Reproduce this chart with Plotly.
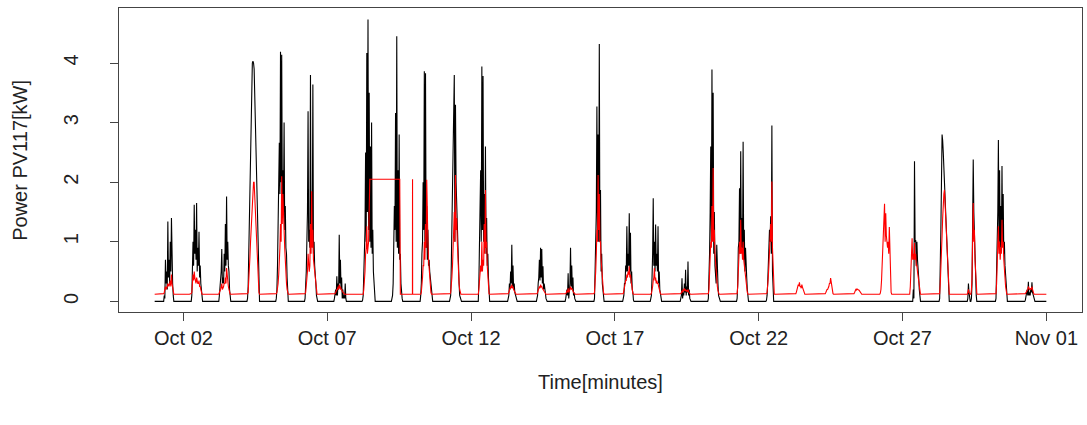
import datetime as dt
import plotly.graph_objects as go

# ---------------- data ----------------
START = dt.datetime(2017, 10, 1)
N_DAYS = 31
HOURS = [5, 6, 7, 8, 9, 10, 11, 12, 13, 14, 15, 16]          # full-hour readings
HALF_HOURS = [5.5, 6.5, 7.5, 8.5, 9.5, 10.5, 11.5, 12.5, 13.5, 14.5, 15.5]

BLACK_NIGHT = 0.0
RED_NIGHT = 0.12

# measured power, kW, per day (rows) at HOURS (columns)
BLACK_KW = [
    [0, 0, 0, 0.1, 0.7, 0.5, 1.34, 0.7, 1.0, 1.4, 0.3, 0],          # Oct 01
    [0, 0, 0.1, 1.0, 1.62, 1.2, 1.65, 0.9, 1.17, 0.6, 0.15, 0],     # Oct 02
    [0, 0.1, 0.3, 0.88, 0.4, 0.8, 1.3, 1.76, 1.0, 0.5, 0.05, 0],    # Oct 03
    [0, 0.25, 1.45, 2.65, 3.85, 4.03, 3.9, 2.9, 1.95, 0.95, 0.05, 0],
    [0, 0.2, 1.2, 2.66, 4.19, 4.14, 2.2, 3.0, 1.6, 0.8, 0.1, 0],
    [0, 0.2, 1.0, 3.19, 1.2, 3.8, 1.5, 3.64, 1.0, 0.5, 0.1, 0],
    [0, 0.05, 0.2, 0.42, 0.3, 1.12, 0.7, 0.4, 0.2, 0.1, 0.3, 0],
    [0, 0.1, 1.0, 2.5, 4.17, 4.73, 3.5, 2.6, 3.0, 1.2, 0.3, 0],      # Oct 08
    [0, 0.05, 0.3, 1.6, 3.16, 4.45, 2.2, 2.8, 0.8, 0.1, 0, 0],
    [0, 0.1, 0.8, 2.0, 3.86, 3.83, 1.6, 1.2, 0.7, 0.4, 0.1, 0],
    [0, 0, 0.1, 1.2, 2.6, 3.8, 3.3, 1.6, 0.8, 0.3, 0.05, 0],
    [0, 0, 0.8, 2.2, 3.94, 3.78, 1.8, 2.6, 1.4, 0.8, 0.1, 0],        # Oct 12
    [0, 0, 0.05, 0.3, 0.5, 0.95, 0.6, 0.3, 0.1, 0, 0, 0],
    [0, 0, 0.05, 0.3, 0.7, 0.9, 0.88, 0.59, 0.3, 0.15, 0.02, 0],
    [0, 0, 0.05, 0.2, 0.47, 0.15, 0.9, 0.6, 0.4, 0.15, 0.02, 0],
    [0, 0, 0.05, 1.0, 3.27, 2.8, 4.32, 1.87, 0.8, 0.2, 0, 0],        # Oct 16
    [0, 0, 0.05, 0.3, 0.6, 1.26, 0.8, 1.48, 1.15, 0.5, 0.15, 0],
    [0, 0.05, 0.4, 1.73, 1.0, 1.29, 0.8, 1.26, 0.5, 0.1, 0, 0],
    [0, 0, 0.05, 0.39, 0.15, 0.3, 0.53, 0.25, 0.67, 0.2, 0, 0],
    [0, 0.05, 0.8, 2.6, 3.89, 3.5, 1.5, 0.4, 0.95, 0.3, 0.05, 0],    # Oct 20
    [0, 0.05, 0.9, 1.9, 2.52, 1.4, 2.68, 1.2, 0.9, 0.4, 0.05, 0],
    [0, 0, 0.1, 0.6, 1.2, 1.43, 2.95, 0.1, 0, 0, 0, 0],
    [0, 0, 0, 0, 0, 0, 0, 0, 0, 0, 0, 0],
    [0, 0, 0, 0, 0, 0, 0, 0, 0, 0, 0, 0],
    [0, 0, 0, 0, 0, 0, 0, 0, 0, 0, 0, 0],
    [0, 0, 0, 0, 0, 0, 0, 0, 0, 0, 0, 0],
    [0, 0, 0, 0, 0.2, 2.35, 1.03, 1.0, 0.6, 0.2, 0, 0],              # Oct 27
    [0, 0, 0.05, 1.2, 2.8, 2.5, 2.0, 1.45, 0.9, 0.4, 0, 0],
    [0, 0, 0.3, 0.05, 0, 0.3, 2.38, 1.0, 0.3, 0, 0, 0],
    [0, 0.05, 1.0, 2.71, 2.2, 1.6, 2.27, 1.8, 1.0, 0.4, 0.05, 0],
    [0, 0, 0.1, 0.2, 0.33, 0.15, 0.2, 0.32, 0.1, 0, 0, 0],           # Oct 31
]

# measured power, kW, at HALF_HOURS (lows between the spikes)
BLACK_KW_HALF = [
    [0, 0, 0, 0.05, 0.3, 0.2, 0.4, 0.3, 0.5, 0.6, 0.1],
    [0, 0, 0.4, 0.6, 0.8, 0.7, 0.5, 0.6, 0.4, 0.3, 0.05],
    [0, 0.2, 0.5, 0.3, 0.3, 0.5, 0.6, 0.7, 0.6, 0.2, 0],
    [0.05, 0.8, 2.05, 3.25, 4.0, 4.0, 3.4, 2.4, 1.45, 0.5, 0],
    [0.05, 0.6, 1.5, 1.8, 2.0, 1.8, 1.5, 1.2, 0.9, 0.4, 0],
    [0.05, 0.5, 1.5, 1.0, 0.9, 1.0, 1.0, 0.8, 0.6, 0.3, 0],
    [0, 0.1, 0.1, 0.1, 0.2, 0.3, 0.2, 0.05, 0.05, 0.05, 0.05],
    [0.02, 0.5, 1.2, 1.0, 1.5, 1.2, 1.0, 0.9, 0.8, 0.5, 0.05],
    [0, 0.1, 0.8, 1.2, 1.0, 0.9, 0.8, 0.7, 0.3, 0.05, 0],
    [0, 0.3, 1.0, 1.2, 1.0, 0.9, 0.7, 0.6, 0.5, 0.2, 0],
    [0, 0.05, 0.6, 1.8, 3.2, 1.0, 2.0, 1.2, 0.5, 0.1, 0],
    [0, 0.3, 1.2, 1.0, 1.2, 1.0, 0.9, 0.8, 0.6, 0.4, 0],
    [0, 0, 0.1, 0.2, 0.3, 0.25, 0.2, 0.15, 0.05, 0, 0],
    [0, 0, 0.1, 0.4, 0.35, 0.4, 0.3, 0.2, 0.15, 0.05, 0],
    [0, 0, 0.1, 0.1, 0.05, 0.3, 0.25, 0.2, 0.1, 0.05, 0],
    [0, 0, 0.4, 1.5, 1.2, 1.0, 1.0, 0.5, 0.3, 0.05, 0],
    [0, 0, 0.1, 0.3, 0.5, 0.5, 0.6, 0.5, 0.3, 0.2, 0.02],
    [0, 0.1, 0.8, 0.6, 0.5, 0.6, 0.5, 0.3, 0.2, 0.02, 0],
    [0, 0, 0.1, 0.05, 0.1, 0.15, 0.1, 0.15, 0.1, 0.05, 0],
    [0, 0.3, 1.5, 1.0, 1.2, 0.8, 0.6, 0.3, 0.4, 0.1, 0],
    [0, 0.3, 1.0, 0.8, 0.9, 0.8, 0.7, 0.5, 0.4, 0.2, 0],
    [0, 0.02, 0.3, 0.8, 1.0, 0.8, 0.5, 0, 0, 0, 0],
    [0, 0, 0, 0, 0, 0, 0, 0, 0, 0, 0],
    [0, 0, 0, 0, 0, 0, 0, 0, 0, 0, 0],
    [0, 0, 0, 0, 0, 0, 0, 0, 0, 0, 0],
    [0, 0, 0, 0, 0, 0, 0, 0, 0, 0, 0],
    [0, 0, 0, 0, 0.05, 1.0, 0.6, 0.7, 0.4, 0.05, 0],
    [0, 0, 0.5, 2.0, 2.7, 2.25, 1.75, 1.2, 0.65, 0.15, 0],
    [0, 0.05, 0.15, 0, 0.05, 1.0, 1.5, 0.6, 0.1, 0, 0],
    [0, 0.4, 1.5, 1.0, 0.9, 0.9, 1.0, 0.8, 0.6, 0.2, 0],
    [0, 0.02, 0.15, 0.1, 0.1, 0.1, 0.15, 0.15, 0.05, 0, 0],
]

# second (red) series, kW, at HOURS
RED_KW = [
    [.12, .12, .12, .15, .25, .22, .3, .25, .35, .45, .2, .12],
    [.12, .12, .15, .45, .5, .35, .4, .3, .35, .25, .15, .12],
    [.12, .15, .2, .3, .22, .3, .4, .56, .35, .2, .12, .12],
    [.12, .15, .5, 1.0, 1.5, 2.0, 2.0, 1.5, 1.0, .5, .15, .12],
    [.12, .15, .3, .6, 1.3, 2.1, 1.8, 1.2, .6, .3, .13, .12],
    [.12, .15, .4, .8, .5, 1.3, 1.85, 1.2, .6, .3, .13, .12],
    [.12, .12, .15, .2, .25, .28, .25, .2, .15, .13, .12, .12],
    [.12, .12, .3, .8, 1.26, .9, 2.05, 2.05, 2.05, 2.05, 2.05, 2.05],
    [2.05, 2.05, 2.05, 2.05, 2.05, 2.05, 2.05, 2.05, .12, .12, .12, .12],
    [.12, .12, .25, .6, 1.0, 1.3, 2.04, 1.0, .5, .2, .12, .12],
    [.12, .12, .15, .4, .9, 1.5, 2.12, 1.4, .7, .3, .13, .12],
    [.12, .12, .3, .6, 1.0, .7, 1.3, 1.87, 1.0, .4, .13, .12],
    [.12, .12, .13, .2, .25, .28, .25, .18, .13, .12, .12, .12],
    [.12, .12, .13, .2, .25, .28, .25, .2, .16, .13, .12, .12],
    [.12, .12, .13, .18, .22, .17, .25, .22, .18, .14, .12, .12],
    [.12, .12, .15, .5, 1.2, 2.12, 1.8, 1.0, .5, .2, .12, .12],
    [.12, .12, .13, .25, .35, .45, .5, .59, .45, .25, .13, .12],
    [.12, .12, .18, .35, .56, .4, .35, .3, .2, .13, .12, .12],
    [.12, .12, .13, .18, .2, .22, .2, .18, .2, .14, .12, .12],
    [.12, .13, .4, 1.0, 1.6, 2.24, 1.2, .6, .3, .18, .12, .12],
    [.12, .13, .5, 1.0, 1.37, .9, 1.0, .6, .35, .2, .12, .12],
    [.12, .12, .15, .4, .9, 1.3, 2.01, .5, .12, .12, .12, .12],
    [.12, .12, .13, .2, .28, .32, .25, .28, .2, .13, .12, .12],
    [.12, .12, .12, .15, .2, .22, .3, .39, .2, .13, .12, .12],
    [.12, .12, .12, .15, .2, .21, .2, .18, .14, .12, .12, .12],
    [.12, .2, .6, .9, 1.64, 1.48, .9, 1.0, 1.25, .3, .12, .12],
    [.12, .12, .5, 1.06, .8, .98, .8, .6, .4, .2, .12, .12],
    [.12, .12, .13, .5, 1.1, 1.7, 1.87, 1.4, .8, .3, .12, .12],
    [.12, .12, .2, .13, .12, .4, 1.65, 1.2, .4, .13, .12, .12],
    [.12, .13, .6, 1.26, 1.0, .9, 1.37, 1.0, .6, .25, .12, .12],
    [.12, .12, .15, .2, .25, .2, .22, .25, .15, .12, .12, .12],
]

# red series at HALF_HOURS
RED_KW_HALF = [
    [.12, .12, .13, .2, .2, .25, .25, .3, .25, .3, .13],
    [.12, .13, .3, .35, .4, .3, .3, .3, .25, .2, .12],
    [.12, .17, .25, .2, .25, .3, .3, .4, .25, .15, .12],
    [.13, .3, .75, 1.25, 1.75, 2.0, 1.75, 1.25, .75, .3, .12],
    [.13, .2, .45, .9, 1.0, 1.3, 1.2, .9, .45, .2, .12],
    [.13, .25, .5, .5, .6, .8, .9, .7, .45, .2, .12],
    [.12, .13, .18, .2, .2, .22, .2, .17, .14, .12, .12],
    [.12, .2, .5, .9, .8, 1.0, 2.05, 2.05, 2.05, 2.05, 2.05],
    [2.05, 2.05, 2.05, 2.05, 2.05, 2.05, 2.05, 2.05, .12, .12, .12],
    [.12, .15, .4, .6, .7, .9, 1.0, .7, .35, .15, .12],
    [.12, .13, .25, .6, 1.0, 1.0, 1.2, 1.0, .5, .2, .12],
    [.12, .2, .4, .5, .5, .6, .8, .9, .6, .25, .12],
    [.12, .12, .15, .2, .22, .22, .2, .15, .12, .12, .12],
    [.12, .12, .15, .22, .22, .24, .22, .18, .14, .12, .12],
    [.12, .12, .15, .15, .15, .2, .2, .18, .15, .12, .12],
    [.12, .13, .3, .8, 1.0, 1.2, 1.0, .7, .3, .15, .12],
    [.12, .12, .18, .3, .35, .4, .45, .4, .35, .18, .12],
    [.12, .14, .25, .4, .35, .3, .3, .25, .15, .12, .12],
    [.12, .12, .15, .15, .17, .18, .17, .17, .16, .13, .12],
    [.12, .2, .7, .9, 1.0, 1.0, .8, .4, .25, .14, .12],
    [.12, .25, .7, .8, .8, .7, .7, .45, .25, .15, .12],
    [.12, .13, .25, .6, .9, 1.0, .9, .2, .12, .12, .12],
    [.12, .12, .16, .24, .26, .25, .22, .24, .16, .12, .12],
    [.12, .12, .13, .18, .2, .25, .3, .3, .15, .12, .12],
    [.12, .12, .13, .17, .19, .2, .19, .16, .13, .12, .12],
    [.14, .35, .8, 1.2, 1.0, 1.1, .9, .8, .7, .15, .12],
    [.12, .25, .8, .7, .7, .7, .6, .5, .3, .15, .12],
    [.12, .12, .3, .8, 1.4, 1.8, 1.65, 1.1, .55, .2, .12],
    [.12, .15, .15, .12, .2, .8, 1.0, .7, .2, .12, .12],
    [.12, .3, .8, .8, .7, .8, .9, .7, .4, .15, .12],
    [.12, .13, .17, .2, .2, .2, .2, .2, .13, .12, .12],
]

# isolated red readings (night of Oct 09)
RED_EXTRA_TIMES = ["2017-10-09 23:05", "2017-10-09 23:10", "2017-10-09 23:15"]
RED_EXTRA_KW = [0.12, 2.05, 0.12]

TICK_DATES = ["2017-10-02", "2017-10-07", "2017-10-12", "2017-10-17",
              "2017-10-22", "2017-10-27", "2017-11-01"]
TICK_TEXT = ["Oct 02", "Oct 07", "Oct 12", "Oct 17", "Oct 22", "Oct 27", "Nov 01"]
Y_TICKS = [0, 1, 2, 3, 4]


def build_series(rows, half_rows, night, extra_t=None, extra_v=None):
    pts = [(START, night)]
    for d in range(N_DAYS):
        day0 = START + dt.timedelta(days=d)
        for h, v in zip(HOURS, rows[d]):
            pts.append((day0 + dt.timedelta(hours=h), v))
        for h, v in zip(HALF_HOURS, half_rows[d]):
            pts.append((day0 + dt.timedelta(hours=h), v))
    pts.append((START + dt.timedelta(days=N_DAYS), night))
    if extra_t:
        for t, v in zip(extra_t, extra_v):
            pts.append((dt.datetime.strptime(t, "%Y-%m-%d %H:%M"), v))
    pts.sort(key=lambda p: p[0])
    return [p[0] for p in pts], [p[1] for p in pts]


bx, by = build_series(BLACK_KW, BLACK_KW_HALF, BLACK_NIGHT)
rx, ry = build_series(RED_KW, RED_KW_HALF, RED_NIGHT, RED_EXTRA_TIMES, RED_EXTRA_KW)

fig = go.Figure()
fig.add_trace(go.Scatter(x=bx, y=by, mode="lines",
                         line=dict(color="black", width=1.1)))
fig.add_trace(go.Scatter(x=rx, y=ry, mode="lines",
                         line=dict(color="#ff0000", width=1.1)))

span = dt.timedelta(days=N_DAYS)
x0 = START - span * 0.04
x1 = START + span + span * 0.04

FONT = "Liberation Sans, Arial, Helvetica, sans-serif"
FS = 20
fig.update_layout(
    width=1087, height=425,
    margin=dict(l=119, r=5, t=8, b=113),
    plot_bgcolor="white", paper_bgcolor="white",
    showlegend=False,
    font=dict(family=FONT, size=FS, color="#222"),
    xaxis=dict(type="date", range=[x0, x1],
               tickvals=TICK_DATES, ticktext=TICK_TEXT,
               ticks="outside", ticklen=8, tickcolor="#444", tickwidth=1,
               showline=True, mirror=True, linecolor="#444", linewidth=1,
               showgrid=False, zeroline=False, ticklabelstandoff=0),
    yaxis=dict(range=[-0.178, 4.923], tickvals=Y_TICKS,
               tickangle=-90,
               ticks="outside", ticklen=8, tickcolor="#444", tickwidth=1,
               showline=True, mirror=True, linecolor="#444", linewidth=1,
               showgrid=False, zeroline=False, ticklabelstandoff=24),
    annotations=[
        dict(text="Time[minutes]", xref="paper", yref="paper",
             x=0.5, y=-0.23, xanchor="center", yanchor="middle",
             showarrow=False, font=dict(family=FONT, size=FS, color="#222")),
        dict(text="Power PV117[kW]", xref="paper", yref="paper",
             x=-0.103, y=0.5, xanchor="center", yanchor="middle",
             textangle=-90, showarrow=False,
             font=dict(family=FONT, size=FS, color="#222")),
    ],
)

fig.write_html("out.html")
